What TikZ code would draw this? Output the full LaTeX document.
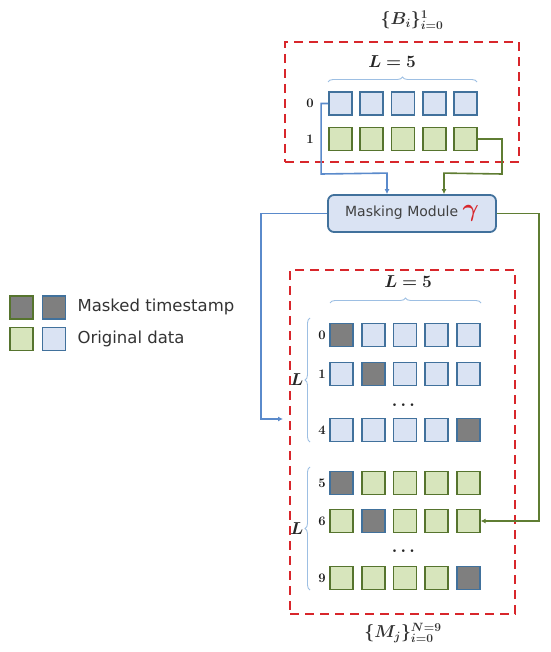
\documentclass[tikz,border=0pt]{standalone}
\usepackage{fontspec}
\usepackage{amsmath,bm}
\newfontfamily\legfont{DejaVu Sans}
\usetikzlibrary{arrows.meta,decorations.pathreplacing,calc}
\definecolor{bbord}{HTML}{41719C}
\definecolor{bfill}{HTML}{DAE3F3}
\definecolor{gbord}{HTML}{56742E}
\definecolor{gfill}{HTML}{D7E5BC}
\definecolor{mfill}{HTML}{7F7F7F}
\definecolor{dred}{HTML}{D8262B}
\definecolor{lineblue}{HTML}{5A8ACB}
\definecolor{linegreen}{HTML}{5F7D33}
\definecolor{braceblue}{HTML}{9DBFE3}
\tikzset{
  sq/.style={minimum size=23pt,inner sep=0pt,line width=1.7pt},
  bsq/.style={sq,draw=bbord,fill=bfill},
  gsq/.style={sq,draw=gbord,fill=gfill},
  bmsq/.style={sq,draw=bbord,fill=mfill},
  gmsq/.style={sq,draw=gbord,fill=mfill},
  redbox/.style={draw=dred,line width=2.2pt,dash pattern=on 9pt off 6pt},
  rowlab/.style={font=\bfseries\fontsize{13}{15}\selectfont,text=black!90},
  mathlab/.style={font=\fontsize{18}{20}\selectfont,text=black!85},
  titlelab/.style={font=\fontsize{17}{20}\selectfont,text=black!80,inner sep=1pt},
  bline/.style={draw=lineblue,line width=1.6pt},
  gline/.style={draw=linegreen,line width=1.6pt},
  tip/.style={-{Latex[length=5pt,width=5pt]}},
  bbrace/.style={draw=braceblue,line width=0.9pt,decorate,decoration={brace,amplitude=5pt}},
  legtext/.style={font=\legfont\fontsize{16.5}{19}\selectfont,anchor=west,text=black!80},
  dotlab/.style={font=\fontsize{16}{16}\selectfont,text=black!85},
}
\begin{document}
\begin{tikzpicture}[x=1pt,y=-1pt]
\useasboundingbox (0,0) rectangle (550,652);
% top box
\node[redbox,minimum width=234pt,minimum height=120pt] (Bbox) at (402,102) {};
\node[titlelab] (Btitle) at (412,20) {$\boldsymbol{\{B_i\}_{i=0}^{1}}$};
\node[mathlab] (BL) at (392,62) {$\boldsymbol{L=5}$};
\draw[bbrace] (328,82) -- (477,82);
\foreach \i in {0,...,4} {
  \node[bsq] (b0\i) at ({340.5+31.3*\i},103.5) {};
  \node[gsq] (b1\i) at ({340.5+31.3*\i},139) {};
}
\node[rowlab] (bl0) at (310,103.5) {0};
\node[rowlab] (bl1) at (310,139) {1};
% module
\node[draw=bbord,fill=bfill,line width=1.8pt,rounded corners=6pt,minimum width=168pt,minimum height=37pt,inner sep=0pt] (mod) at (412,213.5)
  {\legfont\fontsize{14}{16}\selectfont\color{black!75}Masking Module \textcolor{dred}{\fontsize{24}{24}\selectfont$\boldsymbol{\gamma}$}};
% connectors into module
\draw[bline,tip] (b00.west) -- ++(-7,0) coordinate (c1) -- (c1 |- 0,174) -- ($(mod.north)+(-25,-21)$) -- ($(mod.north)+(-25,0)$);
\draw[gline,tip] (b14.east) -- (502,139) coordinate (c2) -- (c2 |- 0,174) -- ($(mod.north)+(32,-21)$) -- ($(mod.north)+(32,0)$);
% bottom box
\node[redbox,minimum width=225pt,minimum height=344pt] (Mbox) at (402.5,442) {};
\node[titlelab] (Mtitle) at (403,633) {$\boldsymbol{\{M_j\}_{i=0}^{N=9}}$};
\node[mathlab] (ML) at (408,282) {$\boldsymbol{L=5}$};
\draw[bbrace] (330,303) -- (481,303);
% rows
\foreach \r/\y in {0/335,1/374,4/430} {
  \foreach \i in {0,...,4} {
    \node[bsq] (m\r\i) at ({341.5+31.7*\i},\y) {};
  }
  \node[rowlab] (ml\r) at (322,\y) {\r};
}
\foreach \r/\y in {5/483,6/521,9/578} {
  \foreach \i in {0,...,4} {
    \node[gsq] (m\r\i) at ({341.5+31.7*\i},\y) {};
  }
  \node[rowlab] (ml\r) at (322,\y) {\r};
}
% masked squares
\node[bmsq] at (m00) {};
\node[bmsq] at (m11) {};
\node[bmsq] at (m44) {};
\node[bmsq] at (m50) {};
\node[bmsq] at (m61) {};
\node[bmsq] at (m94) {};
\node[dotlab] (d1) at (405,405) {$\boldsymbol{\cdots}$};
\node[dotlab] (d2) at (405,551) {$\boldsymbol{\cdots}$};
% left braces
\draw[bbrace] (310,442) -- (310,318);
\node[mathlab] (L1) at (297,380) {$\boldsymbol{L}$};
\draw[bbrace] (310,590) -- (310,467);
\node[mathlab] (L2) at (297,529) {$\boldsymbol{L}$};
% outgoing connectors
\coordinate (inL) at (283,419);
\draw[bline,tip] (mod.west) -- (261,213.5) coordinate (c3) -- (c3 |- inL) -- (inL);
\draw[gline,tip] (mod.east) -- (539,213.5) coordinate (c4) -- (c4 |- m64.east) -- (m64.east);
% legend
\node[gmsq] (lg1) at (21.5,307.5) {};
\node[bmsq] (lg2) at (54,307.5) {};
\node[gsq] (lg3) at (21.5,339) {};
\node[bsq] (lg4) at (54,339) {};
\node[legtext] (lt1) at (74,307) {Masked timestamp};
\node[legtext] (lt2) at (74,339) {Original data};
\end{tikzpicture}
\end{document}
